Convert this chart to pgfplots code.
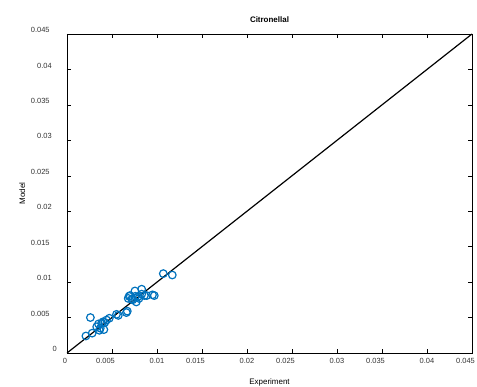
\documentclass[border=0pt]{standalone}
\usepackage{fontspec}
\setmainfont{Liberation Sans}
\usepackage{pgfplots}
\pgfplotsset{compat=1.18}
\definecolor{mblue}{RGB}{0,114,189}
\newcommand\hp[1]{\sbox0{#1}\usebox0\hbox to .5\wd0{}}
\newcommand\xp[2]{#1\hbox to #2{}}
\begin{document}
\begin{tikzpicture}
\begin{axis}[
  name=ax,
  scale only axis,
  width=405bp, height=319bp,
  xmin=0, xmax=0.045, ymin=0, ymax=0.045,
  scaled ticks=false,
  xtick={0,0.005,0.01,0.015,0.02,0.025,0.03,0.035,0.04,0.045},
  ytick={0,0.005,0.01,0.015,0.02,0.025,0.03,0.035,0.04,0.045},
  xticklabels={\xp{0}{4bp},\xp{0.005}{13bp},0.01,\xp{0.015}{13bp},0.02,\xp{0.025}{13bp},0.03,\xp{0.035}{13bp},0.04,\xp{0.045}{13bp}},
  yticklabels={\hp{0},\hp{0.005},\hp{0.01},\hp{0.015},\hp{0.02},\hp{0.025},\hp{0.03},\hp{0.035},\hp{0.04},\hp{0.045}},
  tick align=inside,
  major tick length=4bp,
  tick style={black, line width=0.5pt},
  axis line style={black, line width=0.6pt},
  font=\fontsize{8}{9.6}\selectfont,
  ticklabel style={font=\fontsize{7.5}{9}\selectfont, color=black!80},
  yticklabel style={xshift=-4.5bp, yshift=4bp},
  xticklabel style={yshift=-2bp},
  title={\textbf{Citronellal}},
  title style={yshift=2bp},
  xlabel={Experiment},
  ylabel={Model},
  xlabel style={yshift=-8bp},
  ylabel style={yshift=-1bp},
]
\addplot[black, line width=1.2pt] coordinates {(0,0) (0.045,0.045)};
\addplot[only marks, mark=o, mark size=3.8bp, mblue, line width=1.2pt] table {
x y
0.0021 0.0024
0.0026 0.0050
0.0028 0.0028
0.0033 0.0037
0.0035 0.0041
0.0036 0.0032
0.0037 0.0035
0.00385 0.0042
0.0040 0.0044
0.0041 0.0033
0.0042 0.0043
0.0044 0.00465
0.0047 0.0049
0.0055 0.00545
0.0057 0.0053
0.0066 0.0057
0.0067 0.0059
0.0068 0.0077
0.0069 0.0080
0.0070 0.0081
0.0072 0.0076
0.0073 0.0075
0.00755 0.00875
0.0076 0.0080
0.0077 0.0072
0.0079 0.00795
0.0080 0.0077
0.0083 0.0090
0.0083 0.0083
0.0086 0.0081
0.00885 0.0081
0.0095 0.0082
0.0097 0.0081
0.0107 0.0112
0.0117 0.0110
};
\end{axis}
\pgfresetboundingbox
\path ([shift={(-67bp,-34bp)}]ax.south west) rectangle ([shift={(5bp,34bp)}]ax.north east);
\end{tikzpicture}
\end{document}
